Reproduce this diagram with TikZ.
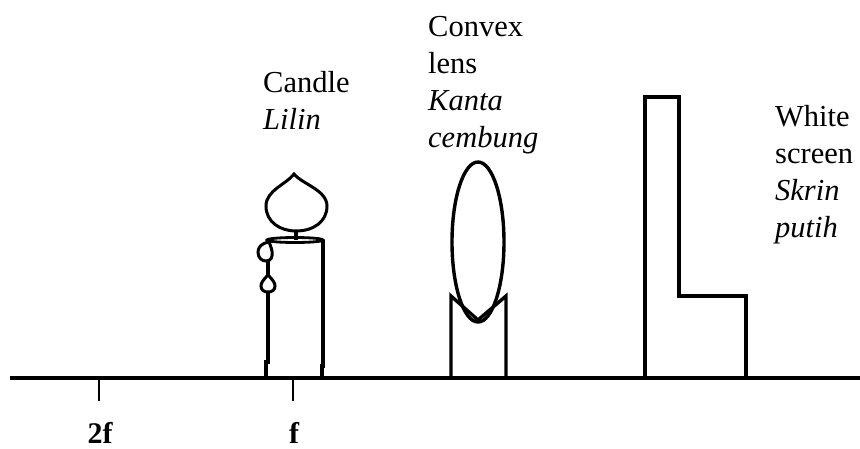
\documentclass[tikz,border=0pt]{standalone}
\usepackage{fontspec}
\setmainfont{Liberation Serif}
\begin{document}
\begin{tikzpicture}[x=1pt,y=-1pt,
  outline/.style={line width=3.4pt,line join=miter},
  thinline/.style={line width=2.2pt},
  label/.style={font=\fontsize{30.5}{37}\selectfont,align=left,inner sep=0pt,anchor=base west},
  axislabel/.style={font=\fontsize{30}{36}\selectfont\bfseries,inner sep=0pt,anchor=base}]
\useasboundingbox (0,0) rectangle (860,448);

% optical bench
\draw[outline] (10,378) -- (860,378);
\draw[thinline] (99,379) -- (99,401);
\draw[thinline] (293,379) -- (293,401);
\node[axislabel] (twof) at (100,443) {2f};
\node[axislabel] (onef) at (294,443) {f};

% candle flame and wick
\draw[outline,line width=3pt] (294,174) .. controls (287,184) and (266,190) .. (266,206)
  .. controls (266,222) and (280,231) .. (296,231)
  .. controls (313,231) and (327,222) .. (327,206)
  .. controls (327,190) and (302,184) .. (294,174) -- cycle;
\draw[outline] (296,231) -- (296,240);

% candle body
\draw[outline,line width=2.8pt] (295,240) ellipse [x radius=28, y radius=2.5];
\draw[outline,line width=4.2pt] (323,240) -- (323,366) -- (322,366) -- (322,378);
\draw[outline] (268,261) -- (268,275);
\draw[outline] (268,292) -- (268,362) -- (266,362) -- (266,378);

% wax drips
\draw[outline,line width=3pt] (269,242) .. controls (262,243) and (258,247) .. (258,252)
  .. controls (258,258) and (262,261) .. (266,261)
  .. controls (271,261) and (273,257) .. (272,251)
  .. controls (271,247) and (270,244) .. (269,242);
\draw[outline,line width=3pt] (268,275) .. controls (263,280) and (261,283) .. (261,286)
  .. controls (261,290) and (264,292) .. (268,292)
  .. controls (272,292) and (275,290) .. (275,286)
  .. controls (275,283) and (273,280) .. (268,275) -- cycle;

% convex lens on its holder
\draw[outline] (478,242) ellipse [x radius=26, y radius=80];
\draw[outline] (451,378) -- (451,296) -- (478,320) -- (506,296) -- (506,378);

% white screen
\draw[outline] (645,378) -- (645,97) -- (679,97) -- (679,296) -- (746,296) -- (746,378);

% labels (anchored at the baseline of their last line)
\node[label] (candle) at (263,129) {Candle\\\textit{Lilin}};
\node[label] (lens) at (428,147) {Convex\\lens\\\textit{Kanta}\\\textit{cembung}};
\node[label] (screen) at (775,237) {White\\screen\\\textit{Skrin}\\\textit{putih}};
\end{tikzpicture}
\end{document}
